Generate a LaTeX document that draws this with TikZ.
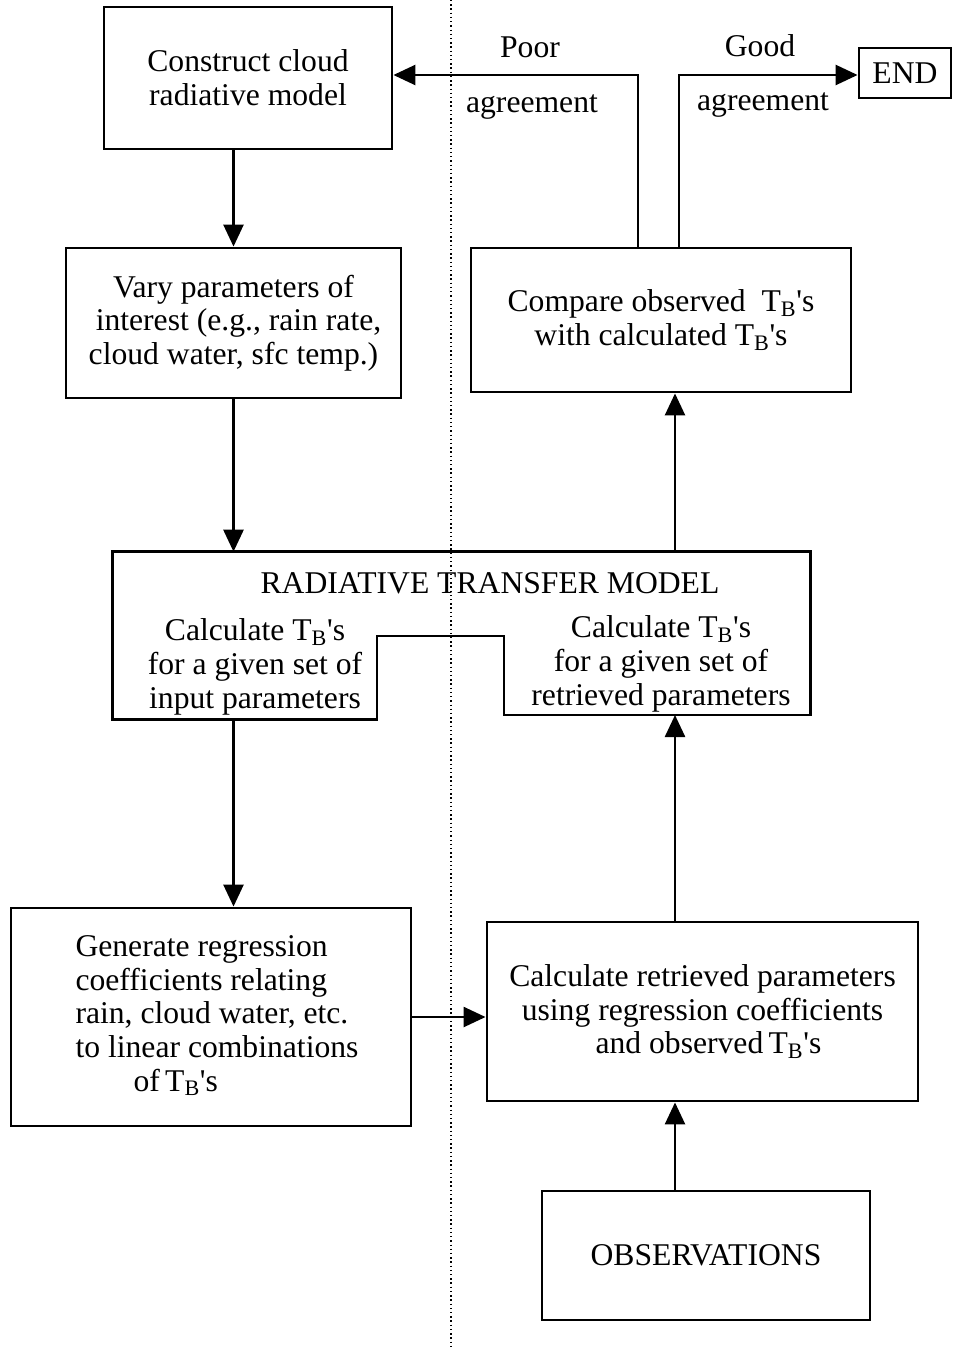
\documentclass[tikz,border=0pt]{standalone}
\usepackage{fontspec}
\setmainfont{Liberation Serif}
\usetikzlibrary{calc,arrows.meta}

\newcommand{\TBs}{T\textsubscript{B}\textquotesingle s}

\begin{document}
\begin{tikzpicture}[x=0.025cm,y=-0.025cm,
  box/.style={draw,line width=2pt,inner sep=0pt,align=center,font=\fontsize{22.5}{24}\selectfont},
  txt/.style={inner sep=0pt,align=center,font=\fontsize{22.5}{24}\selectfont},
  arr/.style={line width=1.8pt,-{Triangle[length=0.55cm,width=0.5cm]}}]

\useasboundingbox (0,0) rectangle (954,1347);

\coordinate (divtop) at (451,0);
\coordinate (divbot) at (451,1347);
\draw[dotted,line width=1pt] (divtop) -- (divbot);

\node[box,minimum width=7.2cm,minimum height=3.55cm] (construct) at (248,78) {Construct cloud\\radiative model};
\node[box,minimum width=8.375cm,minimum height=3.75cm] (vary) at (233.5,323) {Vary parameters of\\\hspace*{0.25cm}interest (e.g., rain rate,\\cloud water, sfc temp.)};
\node[box,minimum width=9.5cm,minimum height=3.6cm] (compare) at (661,320) {Compare observed\ \ \TBs\\with calculated \TBs};
\node[box,minimum width=2.3cm,minimum height=1.25cm] (endbox) at (905,73) {END};

% radiative transfer model
\node[inner sep=0pt,minimum width=17.425cm,minimum height=4.175cm] (rtm) at (461.5,635.5) {};
\coordinate (n1) at (377,636);
\coordinate (n2) at (504,715);
\draw[line width=2pt] (rtm.north west) -- (rtm.north east) -- (rtm.east |- n2) -- (n2) -- (n2 |- n1) -- (n1) -- (n1 |- rtm.south) -- (rtm.south west) -- cycle;
\node[txt] (rtmtitle) at (490,583) {RADIATIVE TRANSFER MODEL};
\node[txt] (rtmin) at (255,667) {Calculate \TBs\\for a given set of\\input parameters};
\node[txt] (rtmret) at (661,664) {Calculate \TBs\\for a given set of\\retrieved parameters};

\node[box,minimum width=10cm,minimum height=5.45cm] (gen) at (211,1017) {\hspace*{0.3cm}\begin{tabular}{@{}l@{}}Generate regression\\coefficients relating\\rain, cloud water, etc.\\to linear combinations\\\hspace*{1.45cm}of\,\TBs\end{tabular}};
\node[box,minimum width=10.775cm,minimum height=4.475cm] (calcret) at (702.5,1011.5) {Calculate retrieved parameters\\using regression coefficients\\\hspace*{0.3cm}and observed\,\TBs};
\node[box,minimum width=8.2cm,minimum height=3.225cm] (obs) at (706,1255.5) {OBSERVATIONS};

\node[txt,anchor=base] (poor) at (530,58) {Poor};
\node[txt,anchor=base] (poorag) at (532,112) {agreement};
\node[txt,anchor=base] (good) at (760,57) {Good};
\node[txt,anchor=base] (goodag) at (763,110) {agreement};

\coordinate (rx) at (675,0);
\coordinate (pl) at (638,75);
\coordinate (gl) at (679,75);

\draw[arr] (vary.north |- construct.south) -- (vary.north);
\draw[arr] (vary.south) -- (vary.south |- rtm.north);
\draw[arr] (vary.south |- rtm.south) -- (vary.south |- gen.north);
\draw[arr] (gen.east) -- (gen.east -| calcret.west);
\draw[arr] (rx |- obs.north) -- (rx |- calcret.south);
\draw[arr] (rx |- calcret.north) -- (rx |- n2);
\draw[arr] (rx |- rtm.north) -- (rx |- compare.south);
\draw[arr] (pl |- compare.north) -- (pl) -- (pl -| construct.east);
\draw[arr] (gl |- compare.north) -- (gl) -- (gl -| endbox.west);

\end{tikzpicture}
\end{document}
